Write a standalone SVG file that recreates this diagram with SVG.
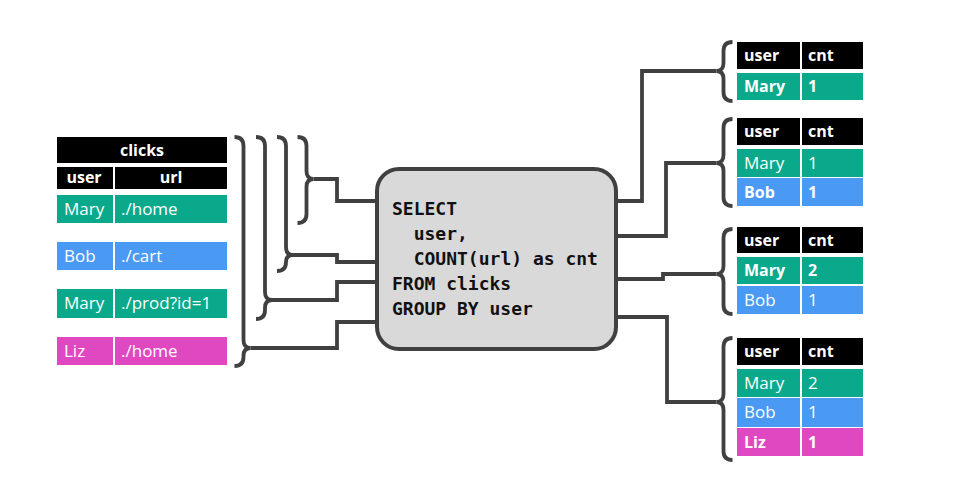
<svg xmlns="http://www.w3.org/2000/svg" width="956" height="490" viewBox="0 0 956 490">
<style>
.hd{fill:#000}
.g{fill:#0aa98b}
.b{fill:#4a9af4}
.m{fill:#e048c2}
.t{font-family:"Open Sans","Noto Sans",sans-serif;font-size:17px;fill:#fff}
.tb{font-family:"Open Sans","Noto Sans",sans-serif;font-size:16px;fill:#fff;font-weight:bold}
.ln{fill:none;stroke:#404040;stroke-width:3.8;stroke-linejoin:miter}
.sql{font-family:"DejaVu Sans Mono","Liberation Mono",monospace;font-size:18px;fill:#111;font-weight:bold}
</style>
<rect width="956" height="490" fill="#fff"/>
<g id="clicks">
<rect class="hd" x="57" y="137" width="170" height="26"/>
<text class="tb" x="142" y="156" text-anchor="middle">clicks</text>
<rect class="hd" x="57" y="167" width="56" height="22"/>
<rect class="hd" x="115" y="167" width="112" height="22"/>
<text class="tb" x="84" y="183" text-anchor="middle">user</text>
<text class="tb" x="171" y="183" text-anchor="middle">url</text>
<rect class="g" x="57" y="195" width="56" height="28"/>
<rect class="g" x="115" y="195" width="112" height="28"/>
<text class="t" x="64" y="215">Mary</text><text class="t" x="121" y="215">./home</text>
<rect class="b" x="57" y="242" width="56" height="28"/>
<rect class="b" x="115" y="242" width="112" height="28"/>
<text class="t" x="64" y="262">Bob</text><text class="t" x="121" y="262">./cart</text>
<rect class="g" x="57" y="289" width="56" height="29"/>
<rect class="g" x="115" y="289" width="112" height="29"/>
<text class="t" x="64" y="309">Mary</text><text class="t" x="121" y="309">./prod?id=1</text>
<rect class="m" x="57" y="337" width="56" height="28"/>
<rect class="m" x="115" y="337" width="112" height="28"/>
<text class="t" x="64" y="357">Liz</text><text class="t" x="121" y="357">./home</text>
</g>
<g id="query">
<rect x="377" y="169" width="239" height="180" rx="22" fill="#d9d9d9" stroke="#404040" stroke-width="4"/>
<text class="sql" x="392" y="215">SELECT</text>
<text class="sql" x="413.7" y="240">user,</text>
<text class="sql" x="413.7" y="265">COUNT(url) as cnt</text>
<text class="sql" x="392" y="290">FROM clicks</text>
<text class="sql" x="392" y="315">GROUP BY user</text>
</g>
<g id="result1">
<rect class="hd" x="737" y="42" width="63" height="27"/><rect class="hd" x="802" y="42" width="61" height="27"/>
<text class="tb" x="744" y="61">user</text><text class="tb" x="808" y="61">cnt</text>
<rect class="g" x="737" y="73" width="63" height="27"/><rect class="g" x="802" y="73" width="61" height="27"/>
<text class="tb" x="744" y="92">Mary</text><text class="tb" x="808" y="92">1</text>
</g>
<g id="result2">
<rect class="hd" x="737" y="118" width="63" height="27"/><rect class="hd" x="802" y="118" width="61" height="27"/>
<text class="tb" x="744" y="137">user</text><text class="tb" x="808" y="137">cnt</text>
<rect class="g" x="737" y="149" width="63" height="28"/><rect class="g" x="802" y="149" width="61" height="28"/>
<text class="t" x="744" y="169">Mary</text><text class="t" x="808" y="169">1</text>
<rect class="b" x="737" y="178" width="63" height="28"/><rect class="b" x="802" y="178" width="61" height="28"/>
<text class="tb" x="744" y="198">Bob</text><text class="tb" x="808" y="198">1</text>
</g>
<g id="result3">
<rect class="hd" x="737" y="227" width="63" height="26"/><rect class="hd" x="802" y="227" width="61" height="26"/>
<text class="tb" x="744" y="246">user</text><text class="tb" x="808" y="246">cnt</text>
<rect class="g" x="737" y="257" width="63" height="27"/><rect class="g" x="802" y="257" width="61" height="27"/>
<text class="tb" x="744" y="276">Mary</text><text class="tb" x="808" y="276">2</text>
<rect class="b" x="737" y="286" width="63" height="28"/><rect class="b" x="802" y="286" width="61" height="28"/>
<text class="t" x="744" y="306">Bob</text><text class="t" x="808" y="306">1</text>
</g>
<g id="result4">
<rect class="hd" x="737" y="338" width="63" height="27"/><rect class="hd" x="802" y="338" width="61" height="27"/>
<text class="tb" x="744" y="357">user</text><text class="tb" x="808" y="357">cnt</text>
<rect class="g" x="737" y="369" width="63" height="28"/><rect class="g" x="802" y="369" width="61" height="28"/>
<text class="t" x="744" y="389">Mary</text><text class="t" x="808" y="389">2</text>
<rect class="b" x="737" y="398" width="63" height="29"/><rect class="b" x="802" y="398" width="61" height="29"/>
<text class="t" x="744" y="418">Bob</text><text class="t" x="808" y="418">1</text>
<rect class="m" x="737" y="428" width="63" height="28"/><rect class="m" x="802" y="428" width="61" height="28"/>
<text class="tb" x="744" y="448">Liz</text><text class="tb" x="808" y="448">1</text>
</g>
<g id="connectors">
<path class="ln" d="M234.5,137 Q243.5,137 243.5,146 L243.5,340 Q243.5,348 250.5,348 Q243.5,348 243.5,356 L243.5,357 Q243.5,366 234.5,366"/>
<path class="ln" d="M256,137 Q265,137 265,146 L265,292 Q265,300 272,300 Q265,300 265,308 L265,310 Q265,319 256,319"/>
<path class="ln" d="M277,137 Q286,137 286,146 L286,247 Q286,255 293,255 Q286,255 286,262 Q286,271 277,271"/>
<path class="ln" d="M297.5,137 Q306.5,137 306.5,146 L306.5,171 Q306.5,179 313.5,179 Q306.5,179 306.5,187 L306.5,214 Q306.5,223 297.5,223"/>
<path class="ln" d="M313.5,179 H337 V201 H376"/>
<path class="ln" d="M293,255 H337 V262 H376"/>
<path class="ln" d="M272,300 H337 V282 H376"/>
<path class="ln" d="M250.5,348 H337 V322 H376"/>
<path class="ln" d="M732.5,42 Q723.5,42 723.5,51 L723.5,63 Q723.5,71 716.5,71 Q723.5,71 723.5,79 L723.5,92 Q723.5,101 732.5,101"/>
<path class="ln" d="M732.5,119 Q723.5,119 723.5,128 L723.5,155 Q723.5,163 716.5,163 Q723.5,163 723.5,171 L723.5,197 Q723.5,206 732.5,206"/>
<path class="ln" d="M732.5,229 Q723.5,229 723.5,238 L723.5,266 Q723.5,274 716.5,274 Q723.5,274 723.5,282 L723.5,305 Q723.5,314 732.5,314"/>
<path class="ln" d="M732.5,338 Q723.5,338 723.5,347 L723.5,394 Q723.5,402 716.5,402 Q723.5,402 723.5,410 L723.5,451 Q723.5,460 732.5,460"/>
<path class="ln" d="M617,201 H642 V71 H716.5"/>
<path class="ln" d="M617,236 H666 V163 H716.5"/>
<path class="ln" d="M617,279 H663 V274 H716.5"/>
<path class="ln" d="M617,317 H667 V402 H716.5"/>
</g>
</svg>
